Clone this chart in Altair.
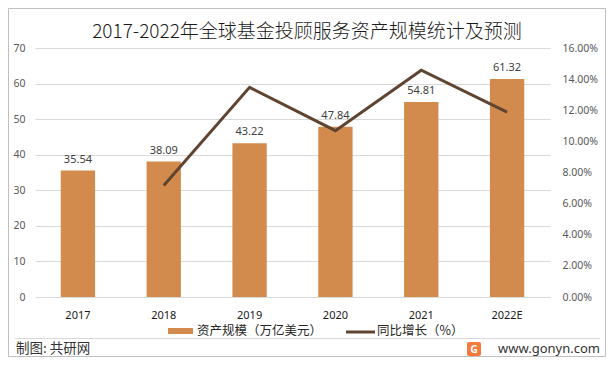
import altair as alt
import pandas as pd

years = ["2017", "2018", "2019", "2020", "2021", "2022E"]
assets = [35.54, 38.09, 43.22, 47.84, 54.81, 61.32]
growth = [None, 0.0717, 0.1347, 0.1069, 0.1457, 0.1188]
left_ticks = [0, 10, 20, 30, 40, 50, 60, 70]
right_ticks = [0, 0.02, 0.04, 0.06, 0.08, 0.10, 0.12, 0.14, 0.16]

title_text = "2017-2022年全球基金投顾服务资产规模统计及预测"
legend_bar = "资产规模（万亿美元）"
legend_line = "同比增长（%）"
footer_left = "制图: 共研网"
footer_right = "www.gonyn.com"

BAR = "#D38B4D"
LINE = "#5E4431"
CJK = "Noto Sans CJK SC"
LAT = "Noto Sans"

df = pd.DataFrame({"year": years, "assets": assets, "growth": growth})

xenc = alt.X("year:N", sort=years, title=None,
             scale=alt.Scale(paddingInner=0.6, paddingOuter=0.3),
             axis=alt.Axis(labelAngle=0, domain=False, ticks=False, labelPadding=12,
                           labelFontSize=11, labelColor="#1a1a1a", labelFont=LAT))

yenc = alt.Y("assets:Q", title=None,
             scale=alt.Scale(domain=[0, 70], nice=False),
             axis=alt.Axis(values=left_ticks, domain=False, ticks=False, labelPadding=10,
                           gridColor="#D9D9D9", labelFontSize=10.5, labelColor="#595959",
                           labelFont=LAT, labelOverlap=False))

bars = alt.Chart(df).mark_bar(color=BAR).encode(x=xenc, y=yenc)
labels = alt.Chart(df).mark_text(baseline="bottom", dy=-6, fontSize=11, color="#404040", font=LAT).encode(
    x=xenc, y=yenc,
    text=alt.Text("assets:Q", format=".2f"),
)

def txt(t, x, y, size, align="left", color="#262626", font=CJK, weight="normal"):
    return alt.Chart(pd.DataFrame({"t": [t]})).mark_text(
        align=align, baseline="middle", fontSize=size, color=color, font=font, fontWeight=weight
    ).encode(text="t:N", x=alt.value(x), y=alt.value(y))

deco_df = pd.DataFrame({"k": [0]})
frame = alt.Chart(deco_df).mark_rect(fillOpacity=0, stroke="#BFBFBF", strokeWidth=1).encode(
    x=alt.value(-26.5), x2=alt.value(570.5), y=alt.value(-39.5), y2=alt.value(308.5))
sep = alt.Chart(deco_df).mark_rule(color="#D9D9D9", strokeWidth=1).encode(
    x=alt.value(-20), x2=alt.value(565), y=alt.value(290.5))
leg_rect = alt.Chart(deco_df).mark_rect(color=BAR).encode(
    x=alt.value(133), x2=alt.value(158), y=alt.value(280), y2=alt.value(286))
leg_line = alt.Chart(deco_df).mark_rule(color=LINE, strokeWidth=3).encode(
    x=alt.value(311), x2=alt.value(340), y=alt.value(284))
logo = alt.Chart(deco_df).mark_rect(color="#F47A3C", cornerRadius=2).encode(
    x=alt.value(432), x2=alt.value(446), y=alt.value(294), y2=alt.value(308))

left = alt.layer(
    bars, labels, frame, sep, leg_rect, leg_line, logo,
    txt(title_text, 272, -16, 19, align="center", color="#1a1a1a", weight=300),
    txt(legend_bar, 162, 283, 12.5, color="#262626"),
    txt(legend_line, 342, 283, 12.5, color="#262626"),
    txt(footer_left, -19, 301, 13.5, color="#333333"),
    txt(footer_right, 565, 301, 13, align="right", color="#333333", font=LAT),
    txt("G", 439, 301.5, 10.5, align="center", color="white", font=LAT, weight="bold"),
)

line = alt.Chart(df).transform_filter("datum.growth != null").mark_line(
    color=LINE, strokeWidth=3, strokeJoin="miter").encode(
    x=xenc,
    y=alt.Y("growth:Q", title=None,
            scale=alt.Scale(domain=[0, 0.16], nice=False),
            axis=alt.Axis(orient="right", values=right_ticks, format=".2%", grid=False,
                          domain=False, ticks=False, labelPadding=12, labelFontSize=10.5,
                          labelColor="#595959", labelFont=LAT, labelOverlap=False)),
)

chart = alt.layer(left, line).resolve_scale(y="independent").properties(
    width=515, height=249,
    autosize=alt.AutoSizeParams(type="none"),
    padding={"left": 27, "top": 40, "right": 56, "bottom": 61},
    background="white",
).configure_view(stroke=None)

chart.save("out.html", embed_options={"renderer": "svg", "actions": False})
